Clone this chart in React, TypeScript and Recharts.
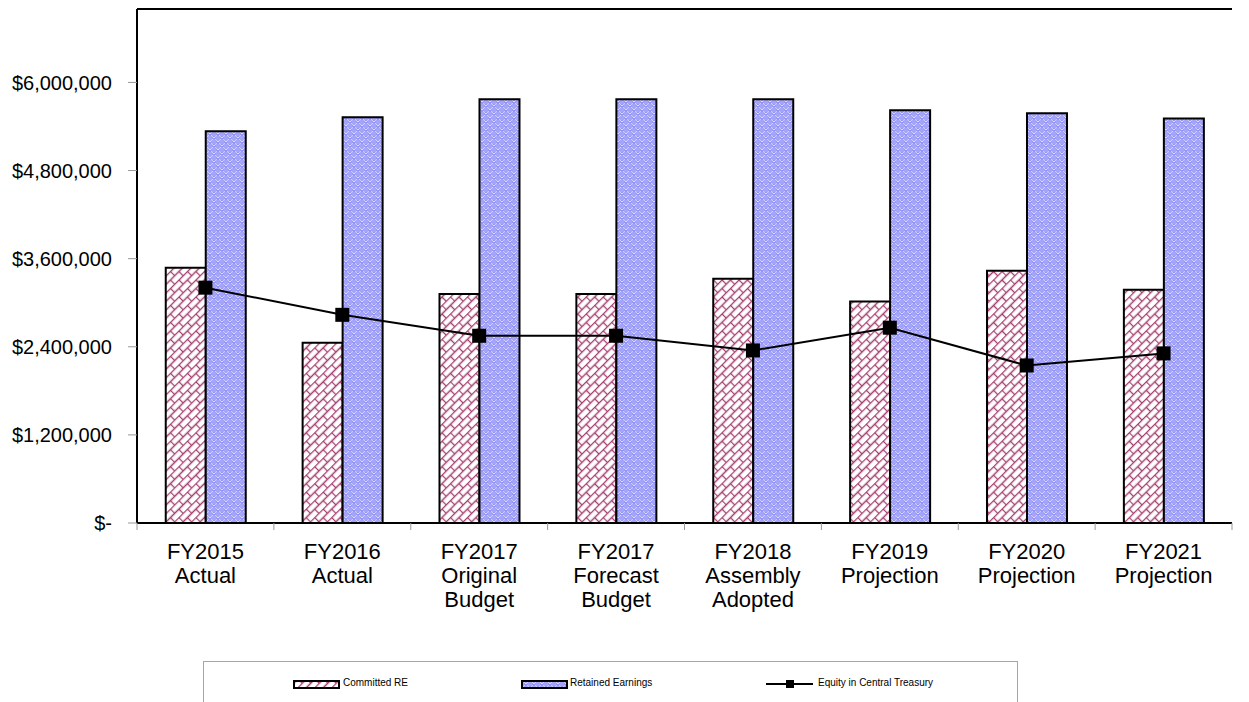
import React from 'react';
import {
  ComposedChart,
  Bar,
  Line,
  XAxis,
  YAxis,
  CartesianGrid,
  ReferenceLine,
  Legend,
} from 'recharts';

const categories = [
  'FY2015\nActual',
  'FY2016\nActual',
  'FY2017\nOriginal\nBudget',
  'FY2017\nForecast\nBudget',
  'FY2018\nAssembly\nAdopted',
  'FY2019\nProjection',
  'FY2020\nProjection',
  'FY2021\nProjection',
];
const committedRE = [3475000, 2455000, 3120000, 3120000, 3325000, 3015000, 3435000, 3175000];
const retainedEarnings = [5335000, 5525000, 5770000, 5770000, 5770000, 5620000, 5580000, 5510000];
const equityTreasury = [3205000, 2835000, 2550000, 2550000, 2350000, 2660000, 2145000, 2310000];
const yTicks = [0, 1200000, 2400000, 3600000, 4800000, 6000000];
const yMax = 7000000;

const data = categories.map((name, i) => ({
  name,
  committed: committedRE[i],
  retained: retainedEarnings[i],
  equity: equityTreasury[i],
}));

const FONT = '"Liberation Sans", Arial, sans-serif';

const formatMoney = (v: number) =>
  v === 0 ? '$-' : '$' + v.toLocaleString('en-US');

function PatternDefs() {
  return (
    <defs>
      <pattern
        id="brickPink"
        patternUnits="userSpaceOnUse"
        width="12"
        height="12"
        patternTransform="rotate(-45)"
      >
        <rect width="12" height="12" fill="#ffffff" />
        <path
          d="M0,0.5 H12 M0,6.5 H12 M0.5,0.5 V6.5 M6.5,6.5 V12.5"
          stroke="#a3406f"
          strokeWidth="1.3"
          fill="none"
        />
      </pattern>
      <pattern id="bubbleBlue" patternUnits="userSpaceOnUse" width="8" height="8">
        <rect width="8" height="8" fill="#ffffff" />
        <rect x="0" y="0" width="4" height="4" fill="#a4a4fa" />
        <rect x="4" y="4" width="4" height="4" fill="#a4a4fa" />
        <circle cx="6" cy="2" r="2.1" fill="#9393f3" />
        <circle cx="2" cy="6" r="2.1" fill="#9393f3" />
        <rect x="5" y="1" width="2" height="1" fill="#dcdcff" />
        <rect x="1" y="5" width="2" height="1" fill="#dcdcff" />
      </pattern>
    </defs>
  );
}

function CategoryTick(props: any) {
  const { x, y, payload, index } = props;
  const half = payload && payload.offset ? payload.offset : 68.4;
  const lines = String(payload.value).split('\n');
  return (
    <g>
      <line x1={x - half} y1={y - 8} x2={x - half} y2={y - 1} stroke="#999" />
      {index === categories.length - 1 && (
        <line x1={x + half} y1={y - 8} x2={x + half} y2={y - 1} stroke="#999" />
      )}
      <text x={x} y={y + 28} textAnchor="middle" fontSize={22} fontFamily={FONT} fill="#000">
        {lines.map((l, i) => (
          <tspan key={i} x={x} dy={i === 0 ? 0 : 24}>
            {l}
          </tspan>
        ))}
      </text>
    </g>
  );
}

function SquareDot(props: any) {
  const { cx, cy } = props;
  if (cx == null || cy == null) return null;
  return <rect x={cx - 7} y={cy - 7} width={14} height={14} fill="#000" />;
}

function LegendBox() {
  const text: React.CSSProperties = { fontSize: 10, fontFamily: FONT, color: '#000' };
  return (
    <div
      style={{
        position: 'relative',
        width: 815,
        height: 60,
        borderTop: '1px solid #a6a6a6',
        borderLeft: '1px solid #a6a6a6',
        borderRight: '1px solid #a6a6a6',
        boxSizing: 'border-box',
      }}
    >
      <svg width={815} height={40} style={{ position: 'absolute', left: 0, top: 0 }}>
        <rect x={90} y={19} width={45} height={7} fill="url(#brickPink)" stroke="#000" strokeWidth={2} />
        <rect x={318} y={19} width={45} height={7} fill="url(#bubbleBlue)" stroke="#000" strokeWidth={2} />
        <line x1={562} y1={22} x2={609} y2={22} stroke="#000" strokeWidth={2} />
        <rect x={582} y={18} width={8} height={8} fill="#000" />
      </svg>
      <span style={{ ...text, position: 'absolute', left: 139, top: 15 }}>Committed RE</span>
      <span style={{ ...text, position: 'absolute', left: 366, top: 15 }}>Retained Earnings</span>
      <span style={{ ...text, position: 'absolute', left: 614, top: 15 }}>
        Equity in Central Treasury
      </span>
    </div>
  );
}

export default function App() {
  return (
    <div style={{ position: 'fixed', left: 0, top: 0, width: 1249, height: 702, background: '#fff' }}>
      <ComposedChart
        width={1249}
        height={702}
        data={data}
        margin={{ top: 9, right: 17, left: 0, bottom: 0 }}
        barGap={0}
        barCategoryGap="21%"
      >
        <PatternDefs />
        <CartesianGrid horizontal vertical={false} stroke="#000" strokeWidth={1.5} />
        <XAxis
          dataKey="name"
          interval={0}
          height={138}
          tickLine={false}
          axisLine={{ stroke: '#000', strokeWidth: 2 }}
          tick={<CategoryTick />}
        />
        <YAxis
          yAxisId="left"
          domain={[0, yMax]}
          ticks={yTicks}
          width={137}
          tickFormatter={formatMoney}
          tick={{ fontSize: 20, fontFamily: FONT, fill: '#000' }}
          tickSize={9}
          tickMargin={16}
          tickLine={{ stroke: '#999' }}
          axisLine={{ stroke: '#000', strokeWidth: 2 }}
          interval={0}
        />
        <YAxis
          yAxisId="right"
          orientation="right"
          domain={[0, yMax]}
          width={0}
          tick={false}
          tickLine={false}
          axisLine={{ stroke: '#000', strokeWidth: 2 }}
        />
        <ReferenceLine yAxisId="left" y={yMax} stroke="#000" strokeWidth={2} />
        <Bar
          yAxisId="left"
          dataKey="committed"
          name="Committed RE"
          fill="url(#brickPink)"
          stroke="#000"
          strokeWidth={2}
          isAnimationActive={false}
        />
        <Bar
          yAxisId="left"
          dataKey="retained"
          name="Retained Earnings"
          fill="url(#bubbleBlue)"
          stroke="#000"
          strokeWidth={2}
          isAnimationActive={false}
        />
        <Line
          yAxisId="left"
          dataKey="equity"
          name="Equity in Central Treasury"
          stroke="#000"
          strokeWidth={2}
          dot={<SquareDot />}
          activeDot={false}
          isAnimationActive={false}
        />
        <Legend
          verticalAlign="bottom"
          height={41}
          content={() => <LegendBox />}
          wrapperStyle={{ left: 203, width: 815 }}
        />
      </ComposedChart>
    </div>
  );
}
